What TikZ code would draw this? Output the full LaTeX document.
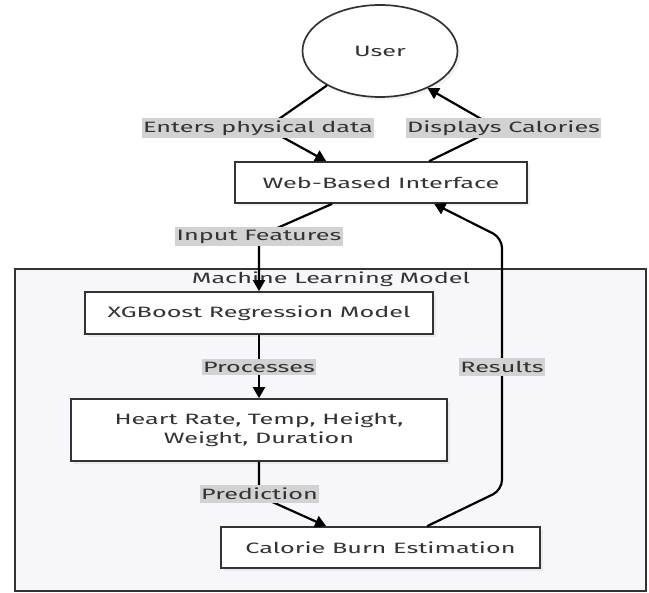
\documentclass[tikz,border=0pt]{standalone}
\usepackage{fontspec}
\setmainfont{Fira Sans}[FakeStretch=1.68]
\usepackage{tikz}
\usetikzlibrary{positioning}
\usetikzlibrary{arrows.meta,shapes}
\usetikzlibrary{shadows}
\definecolor{linegray}{HTML}{333333}
\definecolor{labelgray}{HTML}{D2D2D2}
\definecolor{clusterbg}{HTML}{F6F6FB}
\definecolor{textgray}{HTML}{333333}

\begin{document}
\begin{tikzpicture}[x=1pt,y=-1pt,
  every node/.style={font=\fontsize{15}{19}\selectfont,text=textgray},
  box/.style={draw=linegray,line width=1.7pt,fill=white,inner sep=0pt,align=center,
    drop shadow={opacity=0.10,shadow xshift=3pt,shadow yshift=-3pt}},
  lbl/.style={fill=labelgray,inner xsep=1.5pt,inner ysep=3pt},
  link/.style={line width=2.2pt,rounded corners=10pt},
  flow/.style={link,-{Triangle[length=11pt,width=12pt]}}]
\useasboundingbox (0,0) rectangle (649,593);

% cluster
\node[draw=linegray,line width=1.7pt,fill=clusterbg,minimum width=631pt,minimum height=322pt] (ml) at (330.5,430) {};
\node (mltitle) at (331,279) {Machine Learning Model};

\node[box,ellipse,minimum width=155pt,minimum height=92pt,drop shadow={opacity=0}] (user) at (380,51) {User};
\node[box,minimum width=292pt,minimum height=41pt] (web) at (381,182.5) {Web-Based Interface};
\node[box,minimum width=348pt,minimum height=42pt] (xgb) at (259,313) {XGBoost Regression Model};
\node[box,minimum width=376pt,minimum height=62pt] (feat) at (259,430) {Heart Rate, Temp, Height,\\Weight, Duration};
\node[box,minimum width=319pt,minimum height=41pt] (cal) at (380.5,547.5) {Calorie Burn Estimation};

\coordinate (b1) at (266,128);
\coordinate (b2) at (497,128);
\coordinate (b3) at (259,236);
\coordinate (b4) at (259,496);
\coordinate (b5) at (502,490);
\coordinate (b6) at (502,238);

\draw[flow] (user.213) -- (b1) -- ([xshift=92pt]web.north west);
\draw[flow] ([xshift=195pt]web.north west) -- (b2) -- (user.-38);
\draw[flow] ([xshift=98pt]web.south west) -- (b3) -- (xgb.north);
\draw[flow] (xgb) -- (feat);
\draw[flow] (feat.south) -- (b4) -- ([xshift=106pt]cal.north west);
\draw[flow] ([xshift=207pt]cal.north west) -- (b5) -- (b6) -- ([xshift=200pt]web.south west);

\node[lbl] (enters) at (258,128) {Enters physical data};
\node[lbl] (displays) at (503.5,128) {Displays Calories};
\node[lbl] (input) at (259,236.5) {Input Features};
\node[lbl] (proc) at (259,367) {Processes};
\node[lbl] (res) at (502,367) {Results};
\node[lbl] (pred) at (259.5,494) {Prediction};
\end{tikzpicture}
\end{document}
